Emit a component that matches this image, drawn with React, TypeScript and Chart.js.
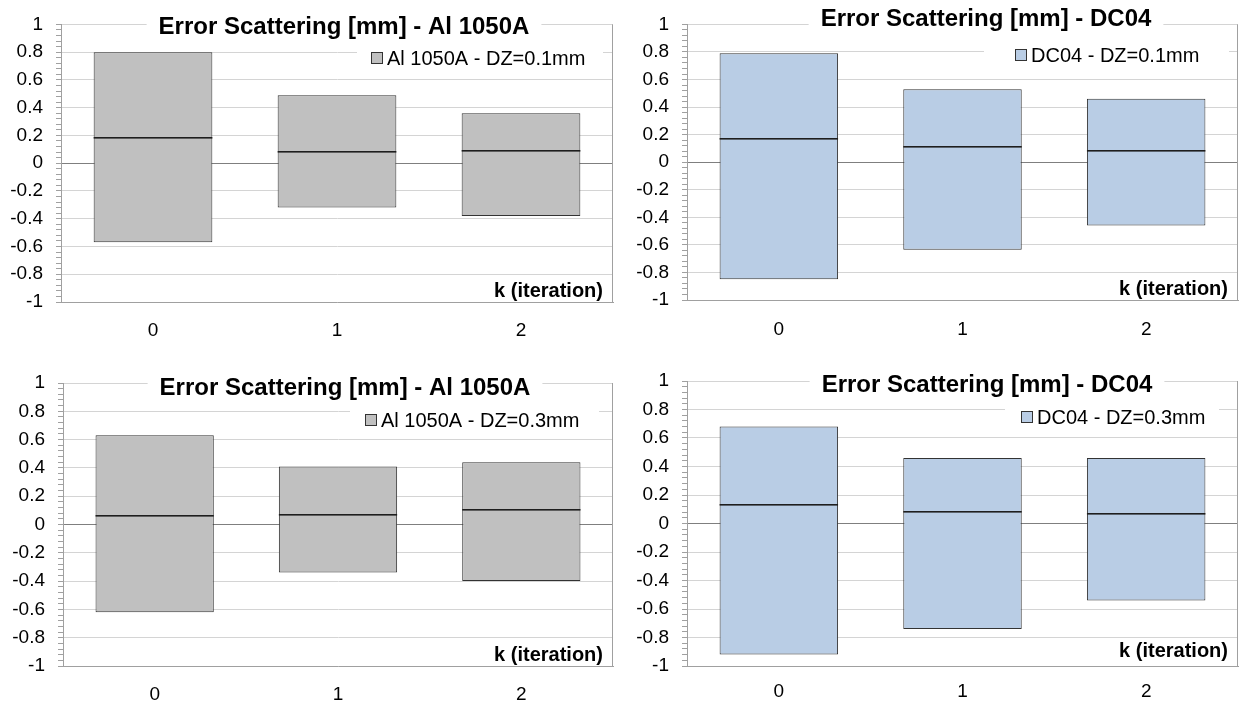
import React, { useEffect, useRef } from 'react';
import { Chart, registerables } from 'chart.js';

Chart.register(...registerables);

// ---------- data ----------
const categories = ['0', '1', '2'];

const al01Low = [-0.57, -0.32, -0.38];
const al01Median = [0.18, 0.08, 0.09];
const al01High = [0.8, 0.49, 0.36];

const dc01Low = [-0.85, -0.635, -0.46];
const dc01Median = [0.17, 0.11, 0.08];
const dc01High = [0.79, 0.53, 0.46];

const al03Low = [-0.62, -0.34, -0.4];
const al03Median = [0.06, 0.07, 0.1];
const al03High = [0.63, 0.41, 0.44];

const dc03Low = [-0.92, -0.74, -0.54];
const dc03Median = [0.13, 0.08, 0.07];
const dc03High = [0.68, 0.46, 0.46];

const Y_MIN = -1;
const Y_MAX = 1;
const MINOR_STEP = 0.04;
const minorTickValues = Array.from(
  { length: Math.round((Y_MAX - Y_MIN) / MINOR_STEP) + 1 },
  (_, i) => Math.round((Y_MIN + i * MINOR_STEP) * 100) / 100
);

const X_AXIS_TITLE = 'k (iteration)';

// ---------- styles ----------
const FONT = '"Liberation Sans", Arial, Helvetica, sans-serif';
const GREY_FILL = '#c0c0c0';
const BLUE_FILL = '#b9cde5';
const BOX_BORDER = '#333333';
const MEDIAN_COLOR = '#1e1e1e';
const AXIS_COLOR = '#a0a0a0';
const GRID_COLOR = '#d4d4d4';
const ZERO_COLOR = '#7f7f7f';
const TICK_SIZE = 19;
const LEGEND_SIZE = 20;
const TITLE_SIZE = 24;
const XTITLE_SIZE = 20;

const isMajor = (v: number) => Math.abs(v * 5 - Math.round(v * 5)) < 1e-6;

type Panel = {
  left: number; top: number; width: number; height: number;
  plotLeft: number; plotTop: number; plotBottom: number; padRight: number;
  title: string; legend: string; fill: string;
  low: number[]; median: number[]; high: number[];
  titleX: number; titleY: number;
  legendX: number; legendY: number; legendBgLeft: number; legendBgRight: number;
  xLabelPad: number; xTitleOffset: number;
};

const panels: Panel[] = [
  {
    left: 0, top: 0, width: 620, height: 352,
    plotLeft: 61, plotTop: 22, plotBottom: 302, padRight: 7,
    title: 'Error Scattering [mm] - Al 1050A', legend: 'Al 1050A - DZ=0.1mm', fill: GREY_FILL,
    low: al01Low, median: al01Median, high: al01High,
    titleX: 344, titleY: 27, legendX: 387, legendY: 58, legendBgLeft: 357, legendBgRight: 603,
    xLabelPad: 9.5, xTitleOffset: 11,
  },
  {
    left: 620, top: 0, width: 619, height: 352,
    plotLeft: 67, plotTop: 15, plotBottom: 300, padRight: 1,
    title: 'Error Scattering [mm] - DC04', legend: 'DC04 - DZ=0.1mm', fill: BLUE_FILL,
    low: dc01Low, median: dc01Median, high: dc01High,
    titleX: 366, titleY: 19, legendX: 411, legendY: 55, legendBgLeft: 364, legendBgRight: 609,
    xLabelPad: 10, xTitleOffset: 11,
  },
  {
    left: 0, top: 352, width: 620, height: 352,
    plotLeft: 63, plotTop: 31, plotBottom: 314, padRight: 7,
    title: 'Error Scattering [mm] - Al 1050A', legend: 'Al 1050A - DZ=0.3mm', fill: GREY_FILL,
    low: al03Low, median: al03Median, high: al03High,
    titleX: 345, titleY: 36, legendX: 381, legendY: 68, legendBgLeft: 350, legendBgRight: 599,
    xLabelPad: 9, xTitleOffset: 11,
  },
  {
    left: 620, top: 352, width: 619, height: 352,
    plotLeft: 67, plotTop: 29, plotBottom: 314, padRight: 1,
    title: 'Error Scattering [mm] - DC04', legend: 'DC04 - DZ=0.3mm', fill: BLUE_FILL,
    low: dc03Low, median: dc03Median, high: dc03High,
    titleX: 367, titleY: 33, legendX: 417, legendY: 65, legendBgLeft: 385, legendBgRight: 599,
    xLabelPad: 6.5, xTitleOffset: 15,
  },
];

const decorPlugin = {
  id: 'decor',
  afterDatasetsDraw(chart: any, _args: any, opts: any) {
    const { ctx } = chart;
    const meta = chart.getDatasetMeta(0);
    const yScale = chart.scales.y;
    ctx.save();
    ctx.fillStyle = MEDIAN_COLOR;
    (opts.medians as number[]).forEach((m, i) => {
      const bar = meta.data[i];
      if (!bar) return;
      const w = bar.width;
      const y = yScale.getPixelForValue(m);
      ctx.fillRect(bar.x - w / 2, Math.round(y) - 1, w, 1.6);
    });
    ctx.restore();
  },
  afterDraw(chart: any, _args: any, opts: any) {
    const { ctx, chartArea } = chart;
    ctx.save();
    // right plot border
    ctx.strokeStyle = AXIS_COLOR;
    ctx.lineWidth = 1;
    const rx = Math.round(chartArea.right) - 0.5;
    ctx.beginPath();
    ctx.moveTo(rx, chartArea.top);
    ctx.lineTo(rx, chartArea.bottom);
    ctx.stroke();

    // title
    ctx.font = `bold ${TITLE_SIZE}px ${FONT}`;
    const tw = ctx.measureText(opts.title).width;
    ctx.fillStyle = '#ffffff';
    ctx.fillRect(opts.titleX - tw / 2 - 12, opts.titleY - 13, tw + 24, 26);
    ctx.fillStyle = '#000000';
    ctx.textAlign = 'center';
    ctx.textBaseline = 'middle';
    ctx.fillText(opts.title, opts.titleX, opts.titleY);

    // legend
    const ds = chart.data.datasets[0];
    ctx.fillStyle = '#ffffff';
    ctx.fillRect(opts.legendBgLeft, opts.legendY - 13, opts.legendBgRight - opts.legendBgLeft, 26);
    const bx = Math.round(opts.legendX - 16) + 0.5;
    const by = Math.round(opts.legendY - 6) + 0.5;
    ctx.fillStyle = ds.backgroundColor;
    ctx.fillRect(bx, by, 11, 11);
    ctx.strokeStyle = BOX_BORDER;
    ctx.strokeRect(bx, by, 11, 11);
    ctx.font = `${LEGEND_SIZE}px ${FONT}`;
    ctx.fillStyle = '#000000';
    ctx.textAlign = 'left';
    ctx.fillText(ds.label, opts.legendX, opts.legendY + 1);

    // x axis title inside plot
    ctx.font = `bold ${XTITLE_SIZE}px ${FONT}`;
    ctx.textAlign = 'right';
    ctx.fillText(X_AXIS_TITLE, chartArea.right - 10, chartArea.bottom - opts.xTitleOffset);
    ctx.restore();
  },
};

function BoxPanel({ p }: { p: Panel }) {
  const ref = useRef<HTMLCanvasElement | null>(null);
  useEffect(() => {
    if (!ref.current) return;
    const chart = new Chart(ref.current, {
      type: 'bar',
      data: {
        labels: categories,
        datasets: [
          {
            label: p.legend,
            data: p.low.map((l, i) => [l, p.high[i]]),
            backgroundColor: p.fill,
            borderColor: BOX_BORDER,
            borderWidth: 1,
            borderSkipped: false,
            inflateAmount: 0,
            barPercentage: 0.645,
            categoryPercentage: 1,
          },
        ],
      } as any,
      options: {
        animation: false,
        responsive: true,
        maintainAspectRatio: false,
        layout: { padding: { top: p.plotTop, right: p.padRight, left: 0, bottom: 0 } },
        plugins: {
          legend: { display: false },
          title: { display: false },
          tooltip: { enabled: false },
          decor: {
            medians: p.median,
            title: p.title,
            titleX: p.titleX, titleY: p.titleY,
            legendX: p.legendX, legendY: p.legendY,
            legendBgLeft: p.legendBgLeft, legendBgRight: p.legendBgRight,
            xTitleOffset: p.xTitleOffset,
          },
        } as any,
        scales: {
          x: {
            type: 'category',
            grid: { display: false },
            border: { display: true, color: AXIS_COLOR, width: 1 },
            ticks: { color: '#000', font: { family: FONT, size: TICK_SIZE }, padding: p.xLabelPad, maxRotation: 0 },
            afterFit: (s: any) => { s.height = p.height - p.plotBottom; },
          },
          y: {
            type: 'linear',
            min: Y_MIN,
            max: Y_MAX,
            afterBuildTicks: (s: any) => { s.ticks = minorTickValues.map((v) => ({ value: v })); },
            afterFit: (s: any) => { s.width = p.plotLeft; },
            grid: {
              drawTicks: true,
              tickLength: 5,
              tickColor: AXIS_COLOR,
              color: (c: any) => {
                const v = c.tick ? c.tick.value : 1;
                if (Math.abs(v) < 1e-9) return ZERO_COLOR;
                return isMajor(v) ? GRID_COLOR : 'rgba(0,0,0,0)';
              },
            },
            border: { display: true, color: AXIS_COLOR, width: 1 },
            ticks: {
              autoSkip: false,
              color: '#000',
              padding: 13,
              font: { family: FONT, size: TICK_SIZE },
              callback: (v: any) => (isMajor(Number(v)) ? String(Math.round(Number(v) * 10) / 10) : ''),
            },
          },
        },
      } as any,
      plugins: [decorPlugin as any],
    });
    return () => chart.destroy();
  }, [p]);
  return (
    <div style={{ position: 'absolute', left: p.left, top: p.top, width: p.width, height: p.height }}>
      <canvas ref={ref} style={{ display: 'block' }} />
    </div>
  );
}

export default function App() {
  return (
    <div style={{ position: 'absolute', left: 0, top: 0, width: 1239, height: 704, background: '#fff', overflow: 'hidden' }}>
      {panels.map((p, i) => (
        <BoxPanel key={i} p={p} />
      ))}
    </div>
  );
}
